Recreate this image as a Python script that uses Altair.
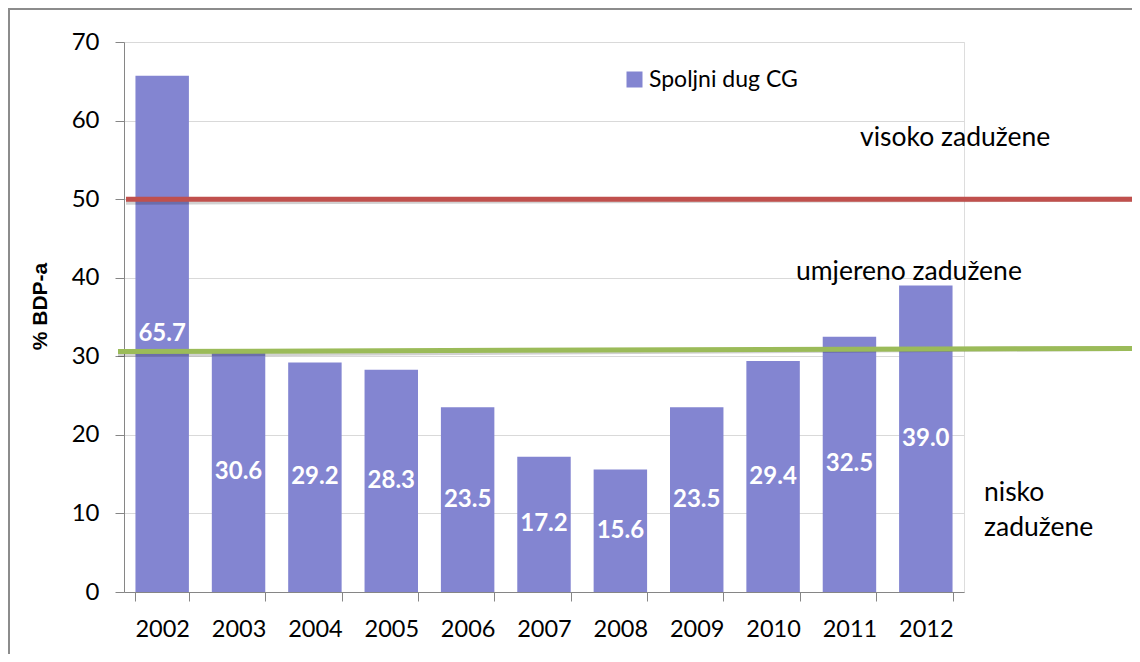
import altair as alt
import pandas as pd

# ---- data ----
years = ["2002", "2003", "2004", "2005", "2006", "2007", "2008", "2009", "2010", "2011", "2012"]
debt_pct_gdp = [65.7, 30.6, 29.2, 28.3, 23.5, 17.2, 15.6, 23.5, 29.4, 32.5, 39.0]
series_name = "Spoljni dug CG"
high_limit = [50.0, 50.0]          # left end, right end (% BDP-a)
moderate_limit = [30.6, 31.0]      # left end, right end (% BDP-a)
zone_labels = ["visoko zadužene", "umjereno zadužene", "nisko", "zadužene"]
zone_label_levels = [57.8, 40.7, 12.6, 8.2]
y_ticks = [0, 10, 20, 30, 40, 50, 60, 70]

# ---- styling / layout ----
FONT = "Lato"
BAR = "#8385D1"
RED = "#C0504D"
GREEN = "#9BBB59"
AX = "#868686"
W, H = 840, 550
PAD = {"left": 116, "top": 34, "right": 168, "bottom": 62}
RIGHT_EDGE = W + PAD["right"]
zone_label_x = [736, 672, 860, 860]

df = pd.DataFrame({"year": years, "value": debt_pct_gdp, "series": series_name})

x_enc = alt.X(
    "year:N",
    title=None,
    sort=years,
    scale=alt.Scale(paddingInner=0.3, paddingOuter=0.15),
    axis=alt.Axis(
        labelAngle=0, labelFont=FONT, labelFontSize=23.5, labelColor="#000000",
        labelPadding=16, tickSize=9, tickColor=AX, domainColor=AX,
        tickBand="extent", grid=False,
    ),
)
y_enc = alt.Y(
    "value:Q",
    scale=alt.Scale(domain=[0, 70], nice=False),
    axis=alt.Axis(
        values=y_ticks, title="% BDP-a", titleFont="Liberation Sans", titleFontSize=21,
        titleFontWeight="bold", titleColor="#000000", titleAngle=270,
        titleX=-84, titleY=264, titleAlign="center", titleBaseline="middle",
        labelFont=FONT, labelFontSize=24, labelColor="#000000", labelPadding=16,
        tickSize=9, tickColor=AX, domainColor=AX, gridColor="#D9D9D9",
    ),
)

bars = alt.Chart(df).mark_bar().encode(
    x=x_enc,
    y=y_enc,
    color=alt.Color(
        "series:N",
        scale=alt.Scale(range=[BAR]),
        legend=alt.Legend(
            title=None, orient="none", legendX=499, legendY=26, padding=0,
            symbolType="square", symbolSize=256, symbolStrokeWidth=0,
            symbolOpacity=1, labelFont=FONT, labelFontSize=23,
            labelColor="#000000", labelOffset=3,
        ),
    ),
)

bar_labels = alt.Chart(df).transform_calculate(mid="datum.value / 2").mark_text(
    font=FONT, fontSize=24, fontWeight="bold", color="white", baseline="middle"
).encode(
    x=alt.X("year:N", sort=years),
    y=alt.Y("mid:Q"),
    text=alt.Text("value:Q", format=".1f"),
)

lim_df = pd.DataFrame({
    "kind": ["high", "moderate"],
    "y_left": [high_limit[0], moderate_limit[0]],
    "y_right": [high_limit[1], moderate_limit[1]],
})

def limit_layer(kind, color, x_left):
    base = alt.Chart(lim_df).transform_filter(alt.datum.kind == kind)
    shadow = base.mark_rule(color="#000000", opacity=0.18, strokeWidth=5, yOffset=3).encode(
        x=alt.value(x_left), x2=alt.value(RIGHT_EDGE),
        y=alt.Y("y_left:Q"), y2="y_right:Q",
    )
    line = base.mark_rule(color=color, strokeWidth=5).encode(
        x=alt.value(x_left), x2=alt.value(RIGHT_EDGE),
        y=alt.Y("y_left:Q"), y2="y_right:Q",
    )
    return shadow + line

red_line = limit_layer("high", RED, 2)
green_line = limit_layer("moderate", GREEN, -6)

ann_df = pd.DataFrame({"label": zone_labels, "level": zone_label_levels, "px": zone_label_x})
annotations = alt.Chart(ann_df).mark_text(
    font=FONT, fontSize=26.5, color="#000000", align="left", baseline="middle"
).encode(
    x=alt.X("px:Q", scale=None),
    y=alt.Y("level:Q"),
    text="label:N",
)

frame_df = pd.DataFrame({"f": [0]})
frame_left = alt.Chart(frame_df).mark_rule(color="#8C8C8C", strokeWidth=2).encode(
    x=alt.value(-PAD["left"] + 1), y=alt.value(-PAD["top"] + 1), y2=alt.value(H + PAD["bottom"])
)
frame_top = alt.Chart(frame_df).mark_rule(color="#8C8C8C", strokeWidth=2).encode(
    y=alt.value(-PAD["top"] + 1), x=alt.value(-PAD["left"]), x2=alt.value(RIGHT_EDGE)
)

chart = alt.layer(
    frame_left, frame_top, bars, red_line, green_line, bar_labels, annotations
).properties(
    width=W, height=H, padding=PAD,
    autosize=alt.AutoSizeParams(type="none"),
).configure_view(stroke=None).configure(background="white")

chart.save("out.html", embed_options={"renderer": "svg", "actions": False})
